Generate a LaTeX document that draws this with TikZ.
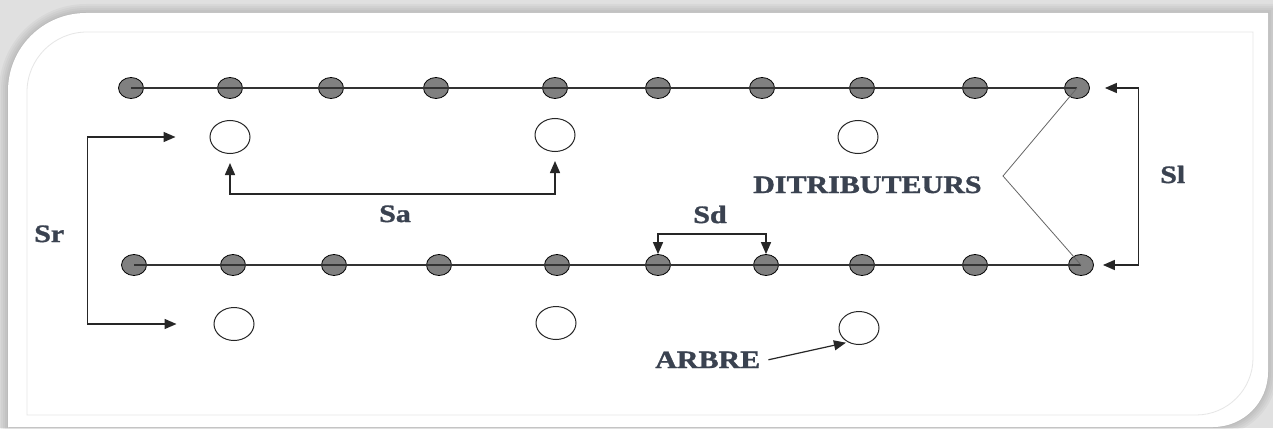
\documentclass[tikz,border=0pt]{standalone}
\usepackage{graphicx}
\usepackage{fontspec}
\setmainfont{Liberation Serif}[BoldFeatures={FakeBold=1.2}]
\usetikzlibrary{shapes.geometric,arrows.meta}

\definecolor{labelink}{RGB}{58,66,80}
\definecolor{dotfill}{RGB}{128,128,128}
\definecolor{backdrop}{RGB}{224,224,224}
\definecolor{rim}{RGB}{230,230,230}

% wide bold lettering
\newcommand\wide[1]{\scalebox{1.2}[1]{#1}}

% outer card: round top-left and bottom-right corners, grown by #1
\newcommand\cardoutline[1]{%
  (8-#1,428) -- (8-#1,{13-#1+78+#1})
  .. controls (8-#1,{13-#1+0.4477*(78+#1)}) and ({8-#1+0.4477*(78+#1)},13-#1) .. ({8-#1+78+#1},13-#1)
  -- (1268+#1,13-#1) -- (1268+#1,{427+#1-55-#1})
  .. controls (1268+#1,{427+#1-0.4477*(55+#1)}) and ({1268+#1-0.4477*(55+#1)},427+#1) .. ({1268+#1-55-#1},427+#1)
  -- (8-#1,427+#1) -- cycle}

\tikzset{
  dist/.style={ellipse,draw=black,line width=0.8pt,fill=dotfill,
               minimum width=25pt,minimum height=21pt,inner sep=0pt},
  tree/.style={ellipse,draw=black!85,line width=1pt,fill=white,
               minimum width=40pt,minimum height=33pt,inner sep=0pt},
  rowline/.style={draw=black!80,line width=1.4pt},
  link/.style={draw=black!85,line width=1.5pt},
  twoway/.style={link,{Triangle[length=12pt,width=10pt]}-{Triangle[length=12pt,width=10pt]}},
  oneway/.style={link,-{Triangle[length=12pt,width=10pt]}},
  pointer/.style={draw=black!60,line width=0.8pt},
  lbl/.style={font=\bfseries\fontsize{25}{28}\selectfont,text=labelink,inner sep=0pt},
}

\begin{document}
\begin{tikzpicture}[x=1pt,y=-1pt]
\useasboundingbox (0,0) rectangle (1273,428);

% backdrop, soft shadow and card
\fill[backdrop] (0,0) rectangle (1273,428);
\foreach \g in {9,7,5,3,1} {
  \fill[black,opacity=0.03] \cardoutline{\g};
}
\fill[white] \cardoutline{0};

% thin inner frame
\draw[rim,line width=0.8pt]
  (27,415) -- (27,92) .. controls (27,{32+0.4477*60}) and ({27+0.4477*60},32) .. (87,32)
  -- (1253,32) -- (1253,358) .. controls (1253,{415-0.4477*57}) and ({1253-0.4477*57},415) .. (1196,415)
  -- cycle;

% distributors, upper and lower rows
\foreach \x [count=\i] in {131,230,331,436,555,658,762,862,975,1077}
  \node[dist] (t\i) at (\x,88) {};
\foreach \x [count=\i] in {134,233,334,439,557,658,766,862,975,1081}
  \node[dist] (b\i) at (\x,265) {};
\draw[rowline] (t1.center) -- (t10.center);
\draw[rowline] (b1.center) -- (b10.center);

% trees
\node[tree] (ta) at (230,137) {};
\node[tree] (tb) at (555,135) {};
\node[tree] (tc) at (858,137) {};
\node[tree] (ba) at (234,324) {};
\node[tree] (bb) at (556,323) {};
\node[tree] (bc) at (859,328) {};

% spacing between trees (Sa)
\draw[twoway,shorten <=9pt,shorten >=9pt] (ta.south) -- ++(0,40) -| (tb.south);
\node[lbl,anchor=base] (sa) at (395,222) {\wide{Sa}};

% spacing between rows (Sr)
\draw[twoway,shorten <=34pt,shorten >=37pt] (ta.west) -- ++(-122,0) |- (ba.west);
\node[lbl,anchor=base west] (sr) at (34,242) {\wide{Sr}};

% spacing between distributors (Sd)
\draw[twoway] (b6.north) -- ++(0,-20) -| (b7.north);
\node[lbl,anchor=base] (sd) at (710,223) {\wide{Sd}};

% spacing between lines (Sl)
\draw[twoway,shorten <=15pt,shorten >=9pt] (t10.east) -- ++(48.5,0) |- (b10.east);
\node[lbl,anchor=base west] (sl) at (1160,183) {\wide{Sl}};

% distributor callout
\node[lbl,anchor=base west] (distlbl) at (753,193) {\wide{DITRIBUTEURS}};
\coordinate (apex) at (1003,176);
\draw[pointer] (t10.center) -- (apex) -- (b10.center);

% tree callout
\node[lbl,anchor=base west] (arbre) at (655,368) {\wide{ARBRE}};
\draw[oneway,line width=1.2pt,shorten >=2pt] ([xshift=8pt]arbre.east) -- (bc.232);
\end{tikzpicture}
\end{document}
